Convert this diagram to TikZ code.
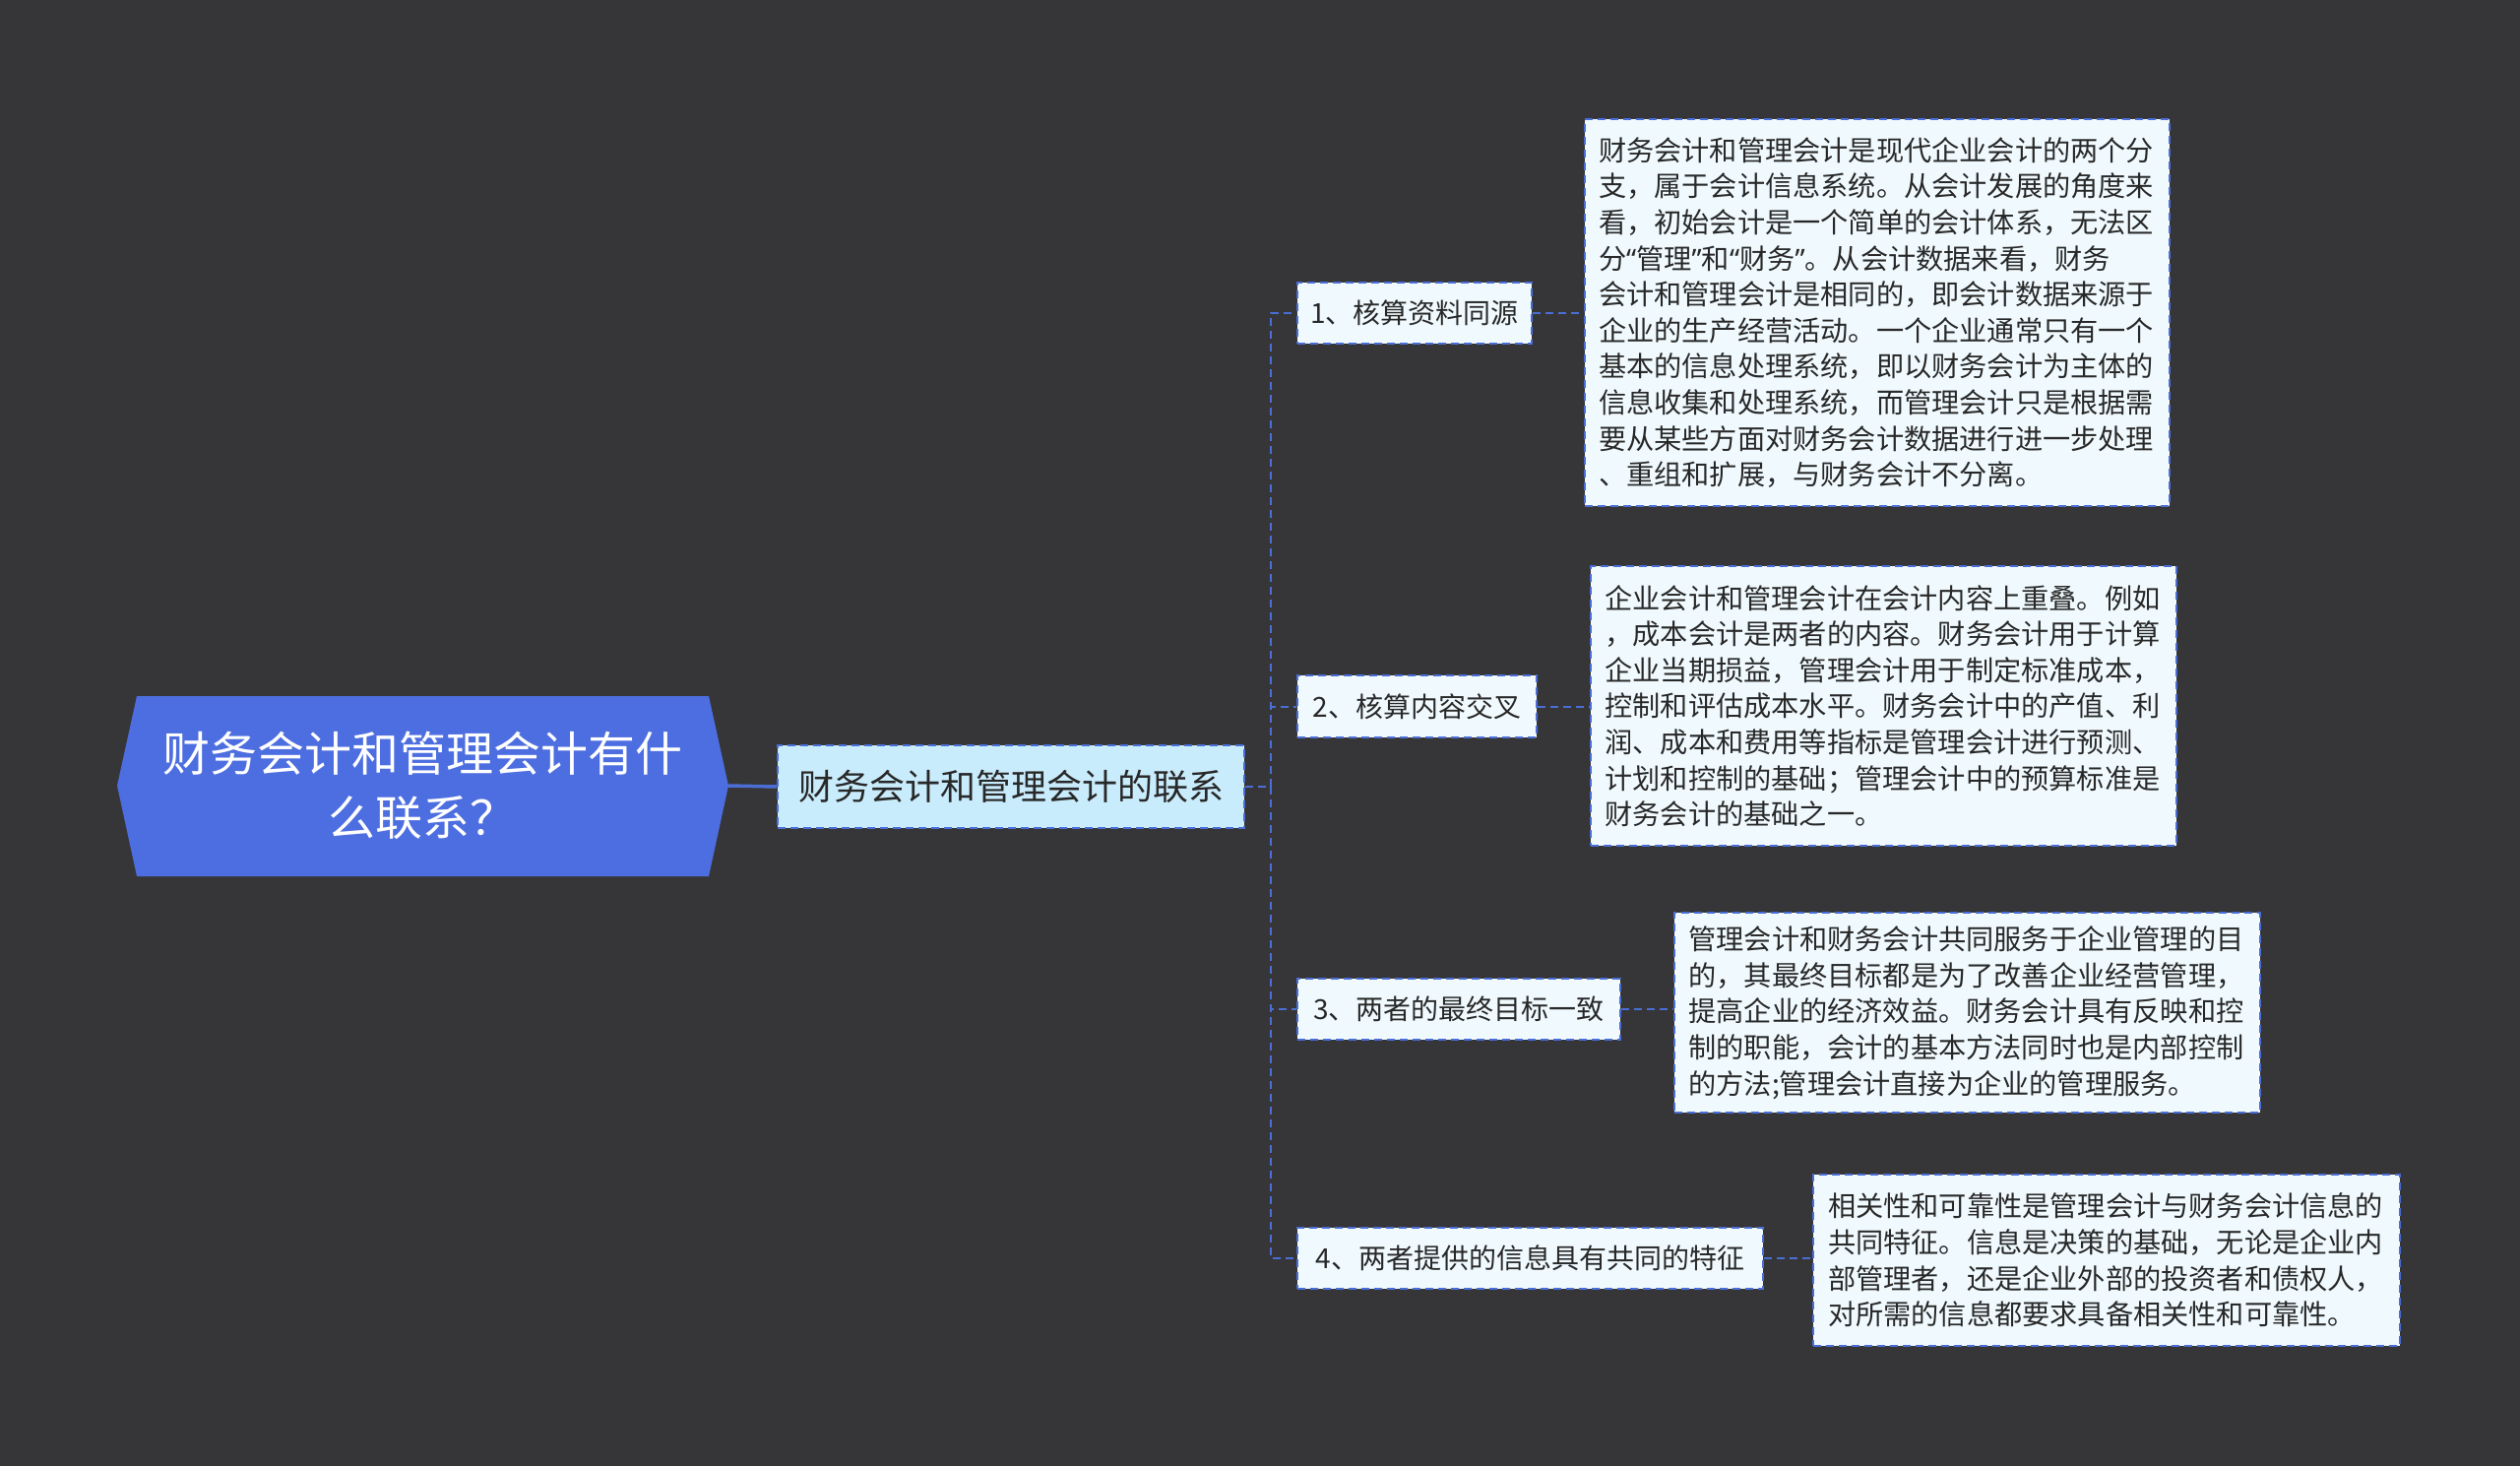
\documentclass[tikz,border=0pt]{standalone}
\usepackage{fontspec}
\setmainfont{Noto Sans CJK SC}
\newfontfamily\qfont{Noto Sans}
\newcommand{\myLq}{{\qfont “}}
\newcommand{\myRq}{{\qfont ”}}
\definecolor{bgc}{RGB}{54,54,56}
\definecolor{rootc}{RGB}{77,110,224}
\definecolor{midc}{RGB}{201,236,252}
\definecolor{leafc}{RGB}{240,250,254}
\definecolor{linec}{RGB}{75,110,214}
\definecolor{txtc}{RGB}{40,40,40}
\tikzset{
  dsh/.style={dash pattern=on 8pt off 5pt},
  midbox/.style={draw=linec, line width=2pt, dsh, fill=midc, text=txtc, inner sep=0pt,
    font=\fontsize{36}{44}\selectfont},
  childbox/.style={draw=linec, line width=2pt, dsh, fill=leafc, text=txtc, inner sep=0pt,
    font=\fontsize{28}{36}\selectfont},
  leafbox/.style={draw=linec, line width=2pt, dsh, fill=leafc, text=txtc, inner sep=0pt,
    align=left, text width=566pt, font=\fontsize{28.2}{36.6}\selectfont},
  conn/.style={draw=linec, line width=2pt, dsh},
}
\begin{document}
\begin{tikzpicture}[x=1pt,y=-1pt]
\fill[bgc] (0,0) rectangle (2560,1489);
\useasboundingbox (0,0) rectangle (2560,1489);
% root hexagon
\fill[rootc] (119,798) -- (139,707) -- (720,707) -- (740,798) -- (720,890) -- (139,890) -- cycle;
\node[minimum width=621pt, minimum height=183pt, inner sep=0pt, text=white, align=center,
  font=\fontsize{48}{65}\selectfont] (root) at (429.5,798) {财务会计和管理会计有什\\么联系？};
% mid
\node[midbox, minimum width=474pt, minimum height=84pt] (mid) at (1027,799) {财务会计和管理会计的联系};
% children
\node[childbox, minimum width=238pt, minimum height=62pt] (c1) at (1437,318) {1、核算资料同源};
\node[childbox, minimum width=243pt, minimum height=63pt] (c2) at (1439.5,717.5) {2、核算内容交叉};
\node[childbox, minimum width=328pt, minimum height=62pt] (c3) at (1482,1025) {3、两者的最终目标一致};
\node[childbox, minimum width=473pt, minimum height=62pt] (c4) at (1554.5,1278) {4、两者提供的信息具有共同的特征};
% leaves
\node[leafbox, minimum width=594pt, minimum height=393pt] (l1) at (1907,317.5) {财务会计和管理会计是现代企业会计的两个分\\支，属于会计信息系统。从会计发展的角度来\\看，初始会计是一个简单的会计体系，无法区\\分\myLq 管理\myRq 和\myLq 财务\myRq 。从会计数据来看，财务\\会计和管理会计是相同的，即会计数据来源于\\企业的生产经营活动。一个企业通常只有一个\\基本的信息处理系统，即以财务会计为主体的\\信息收集和处理系统，而管理会计只是根据需\\要从某些方面对财务会计数据进行进一步处理\\、重组和扩展，与财务会计不分离。};
\node[leafbox, minimum width=595pt, minimum height=284pt] (l2) at (1913.5,717) {企业会计和管理会计在会计内容上重叠。例如\\，成本会计是两者的内容。财务会计用于计算\\企业当期损益，管理会计用于制定标准成本，\\控制和评估成本水平。财务会计中的产值、利\\润、成本和费用等指标是管理会计进行预测、\\计划和控制的基础；管理会计中的预算标准是\\财务会计的基础之一。};
\node[leafbox, minimum width=595pt, minimum height=203pt] (l3) at (1998.5,1028.5) {管理会计和财务会计共同服务于企业管理的目\\的，其最终目标都是为了改善企业经营管理，\\提高企业的经济效益。财务会计具有反映和控\\制的职能，会计的基本方法同时也是内部控制\\的方法;管理会计直接为企业的管理服务。};
\node[leafbox, minimum width=596pt, minimum height=174pt] (l4) at (2140,1280) {相关性和可靠性是管理会计与财务会计信息的\\共同特征。信息是决策的基础，无论是企业内\\部管理者，还是企业外部的投资者和债权人，\\对所需的信息都要求具备相关性和可靠性。};
% connectors
\draw[draw=linec, line width=3.5pt] (root.east) -- (mid.west);
\coordinate (sp) at (1291,799);
\draw[conn] (mid.east) -- (sp);
\draw[conn] (sp) |- (c1.west);
\draw[conn] (sp) |- (c2.west);
\draw[conn] (sp) |- (c3.west);
\draw[conn] (sp) |- (c4.west);
\draw[conn] (c1.east) -- (c1.east -| l1.west);
\draw[conn] (c2.east) -- (c2.east -| l2.west);
\draw[conn] (c3.east) -- (c3.east -| l3.west);
\draw[conn] (c4.east) -- (c4.east -| l4.west);
\end{tikzpicture}
\end{document}
